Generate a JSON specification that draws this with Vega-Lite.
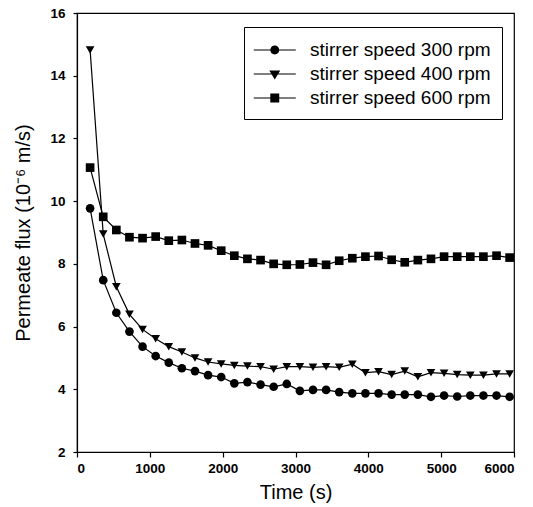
{
  "$schema": "https://vega.github.io/schema/vega-lite/v6.json",
  "width": 437,
  "height": 439,
  "autosize": {"type": "none"},
  "padding": {"left": 77, "top": 13, "right": 19, "bottom": 55},
  "background": "white",
  "config": {
    "view": {"stroke": "black", "strokeWidth": 1.2},
    "axis": {
      "domainColor": "black", "domainWidth": 1.2, "tickColor": "black", "tickWidth": 1.2, "grid": false,
      "labelFont": "Liberation Sans", "labelFontWeight": "bold", "labelFontSize": 13.5, "labelColor": "black",
      "titleFont": "Liberation Sans", "titleFontWeight": "normal", "titleFontSize": 20, "titleColor": "black"
    }
  },
  "data": {"values": [
    {"speed": "stirrer speed 300 rpm", "t": 180, "flux": 9.77},
    {"speed": "stirrer speed 300 rpm", "t": 360, "flux": 7.48},
    {"speed": "stirrer speed 300 rpm", "t": 540, "flux": 6.44},
    {"speed": "stirrer speed 300 rpm", "t": 720, "flux": 5.84},
    {"speed": "stirrer speed 300 rpm", "t": 900, "flux": 5.36},
    {"speed": "stirrer speed 300 rpm", "t": 1080, "flux": 5.06},
    {"speed": "stirrer speed 300 rpm", "t": 1260, "flux": 4.85},
    {"speed": "stirrer speed 300 rpm", "t": 1440, "flux": 4.67},
    {"speed": "stirrer speed 300 rpm", "t": 1620, "flux": 4.58},
    {"speed": "stirrer speed 300 rpm", "t": 1800, "flux": 4.45},
    {"speed": "stirrer speed 300 rpm", "t": 1980, "flux": 4.39},
    {"speed": "stirrer speed 300 rpm", "t": 2160, "flux": 4.19},
    {"speed": "stirrer speed 300 rpm", "t": 2340, "flux": 4.23},
    {"speed": "stirrer speed 300 rpm", "t": 2520, "flux": 4.15},
    {"speed": "stirrer speed 300 rpm", "t": 2700, "flux": 4.08},
    {"speed": "stirrer speed 300 rpm", "t": 2880, "flux": 4.17},
    {"speed": "stirrer speed 300 rpm", "t": 3060, "flux": 3.95},
    {"speed": "stirrer speed 300 rpm", "t": 3240, "flux": 3.98},
    {"speed": "stirrer speed 300 rpm", "t": 3420, "flux": 3.98},
    {"speed": "stirrer speed 300 rpm", "t": 3600, "flux": 3.91},
    {"speed": "stirrer speed 300 rpm", "t": 3780, "flux": 3.87},
    {"speed": "stirrer speed 300 rpm", "t": 3960, "flux": 3.87},
    {"speed": "stirrer speed 300 rpm", "t": 4140, "flux": 3.87},
    {"speed": "stirrer speed 300 rpm", "t": 4320, "flux": 3.83},
    {"speed": "stirrer speed 300 rpm", "t": 4500, "flux": 3.83},
    {"speed": "stirrer speed 300 rpm", "t": 4680, "flux": 3.83},
    {"speed": "stirrer speed 300 rpm", "t": 4860, "flux": 3.76},
    {"speed": "stirrer speed 300 rpm", "t": 5040, "flux": 3.80},
    {"speed": "stirrer speed 300 rpm", "t": 5220, "flux": 3.77},
    {"speed": "stirrer speed 300 rpm", "t": 5400, "flux": 3.80},
    {"speed": "stirrer speed 300 rpm", "t": 5580, "flux": 3.80},
    {"speed": "stirrer speed 300 rpm", "t": 5760, "flux": 3.80},
    {"speed": "stirrer speed 300 rpm", "t": 5940, "flux": 3.76},
    {"speed": "stirrer speed 400 rpm", "t": 180, "flux": 14.82},
    {"speed": "stirrer speed 400 rpm", "t": 360, "flux": 8.95},
    {"speed": "stirrer speed 400 rpm", "t": 540, "flux": 7.27},
    {"speed": "stirrer speed 400 rpm", "t": 720, "flux": 6.39},
    {"speed": "stirrer speed 400 rpm", "t": 900, "flux": 5.91},
    {"speed": "stirrer speed 400 rpm", "t": 1080, "flux": 5.61},
    {"speed": "stirrer speed 400 rpm", "t": 1260, "flux": 5.36},
    {"speed": "stirrer speed 400 rpm", "t": 1440, "flux": 5.19},
    {"speed": "stirrer speed 400 rpm", "t": 1620, "flux": 5.00},
    {"speed": "stirrer speed 400 rpm", "t": 1800, "flux": 4.87},
    {"speed": "stirrer speed 400 rpm", "t": 1980, "flux": 4.81},
    {"speed": "stirrer speed 400 rpm", "t": 2160, "flux": 4.76},
    {"speed": "stirrer speed 400 rpm", "t": 2340, "flux": 4.74},
    {"speed": "stirrer speed 400 rpm", "t": 2520, "flux": 4.72},
    {"speed": "stirrer speed 400 rpm", "t": 2700, "flux": 4.64},
    {"speed": "stirrer speed 400 rpm", "t": 2880, "flux": 4.72},
    {"speed": "stirrer speed 400 rpm", "t": 3060, "flux": 4.72},
    {"speed": "stirrer speed 400 rpm", "t": 3240, "flux": 4.70},
    {"speed": "stirrer speed 400 rpm", "t": 3420, "flux": 4.72},
    {"speed": "stirrer speed 400 rpm", "t": 3600, "flux": 4.70},
    {"speed": "stirrer speed 400 rpm", "t": 3780, "flux": 4.80},
    {"speed": "stirrer speed 400 rpm", "t": 3960, "flux": 4.53},
    {"speed": "stirrer speed 400 rpm", "t": 4140, "flux": 4.56},
    {"speed": "stirrer speed 400 rpm", "t": 4320, "flux": 4.47},
    {"speed": "stirrer speed 400 rpm", "t": 4500, "flux": 4.58},
    {"speed": "stirrer speed 400 rpm", "t": 4680, "flux": 4.40},
    {"speed": "stirrer speed 400 rpm", "t": 4860, "flux": 4.53},
    {"speed": "stirrer speed 400 rpm", "t": 5040, "flux": 4.51},
    {"speed": "stirrer speed 400 rpm", "t": 5220, "flux": 4.47},
    {"speed": "stirrer speed 400 rpm", "t": 5400, "flux": 4.45},
    {"speed": "stirrer speed 400 rpm", "t": 5580, "flux": 4.45},
    {"speed": "stirrer speed 400 rpm", "t": 5760, "flux": 4.49},
    {"speed": "stirrer speed 400 rpm", "t": 5940, "flux": 4.49},
    {"speed": "stirrer speed 600 rpm", "t": 180, "flux": 11.07},
    {"speed": "stirrer speed 600 rpm", "t": 360, "flux": 9.50},
    {"speed": "stirrer speed 600 rpm", "t": 540, "flux": 9.08},
    {"speed": "stirrer speed 600 rpm", "t": 720, "flux": 8.85},
    {"speed": "stirrer speed 600 rpm", "t": 900, "flux": 8.82},
    {"speed": "stirrer speed 600 rpm", "t": 1080, "flux": 8.87},
    {"speed": "stirrer speed 600 rpm", "t": 1260, "flux": 8.74},
    {"speed": "stirrer speed 600 rpm", "t": 1440, "flux": 8.76},
    {"speed": "stirrer speed 600 rpm", "t": 1620, "flux": 8.65},
    {"speed": "stirrer speed 600 rpm", "t": 1800, "flux": 8.59},
    {"speed": "stirrer speed 600 rpm", "t": 1980, "flux": 8.42},
    {"speed": "stirrer speed 600 rpm", "t": 2160, "flux": 8.26},
    {"speed": "stirrer speed 600 rpm", "t": 2340, "flux": 8.16},
    {"speed": "stirrer speed 600 rpm", "t": 2520, "flux": 8.12},
    {"speed": "stirrer speed 600 rpm", "t": 2700, "flux": 8.00},
    {"speed": "stirrer speed 600 rpm", "t": 2880, "flux": 7.97},
    {"speed": "stirrer speed 600 rpm", "t": 3060, "flux": 7.98},
    {"speed": "stirrer speed 600 rpm", "t": 3240, "flux": 8.04},
    {"speed": "stirrer speed 600 rpm", "t": 3420, "flux": 7.97},
    {"speed": "stirrer speed 600 rpm", "t": 3600, "flux": 8.10},
    {"speed": "stirrer speed 600 rpm", "t": 3780, "flux": 8.18},
    {"speed": "stirrer speed 600 rpm", "t": 3960, "flux": 8.23},
    {"speed": "stirrer speed 600 rpm", "t": 4140, "flux": 8.25},
    {"speed": "stirrer speed 600 rpm", "t": 4320, "flux": 8.13},
    {"speed": "stirrer speed 600 rpm", "t": 4500, "flux": 8.05},
    {"speed": "stirrer speed 600 rpm", "t": 4680, "flux": 8.12},
    {"speed": "stirrer speed 600 rpm", "t": 4860, "flux": 8.16},
    {"speed": "stirrer speed 600 rpm", "t": 5040, "flux": 8.23},
    {"speed": "stirrer speed 600 rpm", "t": 5220, "flux": 8.23},
    {"speed": "stirrer speed 600 rpm", "t": 5400, "flux": 8.23},
    {"speed": "stirrer speed 600 rpm", "t": 5580, "flux": 8.23},
    {"speed": "stirrer speed 600 rpm", "t": 5760, "flux": 8.26},
    {"speed": "stirrer speed 600 rpm", "t": 5940, "flux": 8.20}
  ]},
  "encoding": {
    "x": {"field": "t", "type": "quantitative", "title": "Time (s)",
      "scale": {"domain": [0, 6000], "nice": false},
      "axis": {"values": [0, 1000, 2000, 3000, 4000, 5000, 6000], "format": "d", "tickSize": 5, "labelPadding": 4, "titlePadding": 8}},
    "y": {"field": "flux", "type": "quantitative", "title": "Permeate flux (10⁻⁶ m/s)",
      "scale": {"domain": [2, 16], "nice": false, "zero": false},
      "axis": {"values": [2, 4, 6, 8, 10, 12, 14, 16], "tickSize": 4, "labelPadding": 8, "titlePadding": 16}}
  },
  "layer": [
    {
      "mark": {"type": "line", "color": "black", "strokeWidth": 1.2},
      "encoding": {"detail": {"field": "speed"}}
    },
    {
      "mark": {"type": "point", "filled": true, "color": "black", "opacity": 1, "size": 75},
      "encoding": {
        "shape": {"field": "speed", "type": "nominal",
          "scale": {"range": ["circle", "triangle-down", "square"]},
          "legend": null}
      }
    },
    {
      "transform": [{"filter": "datum.t < 0"}],
      "mark": {"type": "point", "filled": true, "color": "black", "opacity": 1, "size": 500},
      "encoding": {
        "shape": {"field": "speed", "type": "nominal",
          "scale": {
            "domain": ["stirrer speed 300 rpm", "stirrer speed 400 rpm", "stirrer speed 600 rpm"],
            "range": [
              "M-1.185,-0.055H2.575V0.055H-1.185ZM1.095,0A0.4,0.4,0,1,1,0.295,0A0.4,0.4,0,1,1,1.095,0Z",
              "M-1.185,-0.055H2.575V0.055H-1.185ZM0.205,-0.31L1.185,-0.31L0.695,0.49Z",
              "M-1.185,-0.055H2.575V0.055H-1.185ZM0.295,-0.4H1.095V0.4H0.295Z"
            ]},
          "legend": {
            "title": null, "orient": "none", "legendX": 167, "legendY": 14,
            "strokeColor": "black", "padding": 11,
            "labelFont": "Liberation Sans", "labelFontSize": 19, "labelColor": "black", "labelOffset": 31, "labelLimit": 0,
            "symbolSize": 500, "symbolFillColor": "black", "symbolOpacity": 1,
            "rowPadding": 2
          }}
      }
    }
  ],
  "resolve": {"scale": {"shape": "independent"}}
}
